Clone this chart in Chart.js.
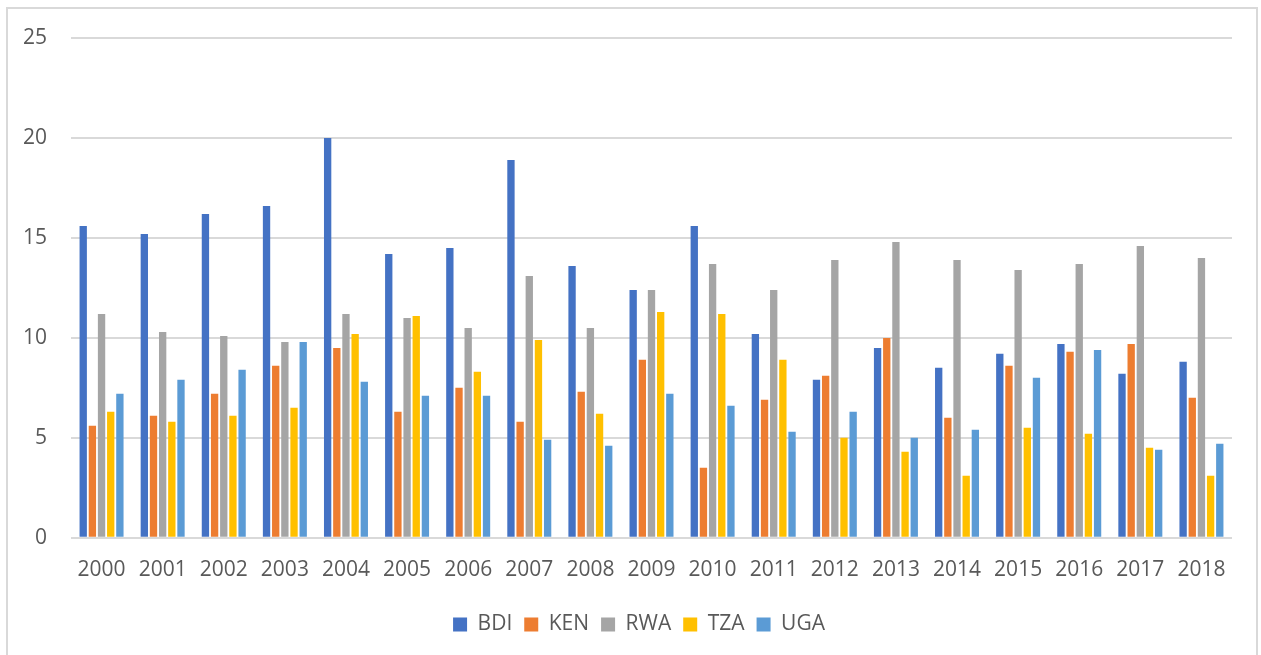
<!DOCTYPE html>
<html>
<head>
<meta charset="utf-8">
<title>BDI, KEN, RWA, TZA, UGA 2000–2018</title>
<script src="https://cdn.jsdelivr.net/npm/chart.js@4"></script>
<style>
  html, body { margin: 0; padding: 0; background: #ffffff; overflow: hidden; }
  #wrap { position: relative; width: 1261px; height: 655px; }
  #frame {
    position: absolute; left: 6px; top: 7px; width: 1252px; height: 660px;
    border: 2px solid #d9d9d9; box-sizing: border-box; pointer-events: none;
  }
  canvas { position: absolute; left: 0; top: 0; }
</style>
</head>
<body>
<div id="wrap">
  <canvas id="chart" width="1261" height="655"></canvas>
  <div id="frame"></div>
</div>
<script>
// Years on the category axis
const years = ['2000','2001','2002','2003','2004','2005','2006','2007','2008','2009',
               '2010','2011','2012','2013','2014','2015','2016','2017','2018'];

// Series values, one array per country
const bdi = [15.6, 15.2, 16.2, 16.6, 20.0, 14.2, 14.5, 18.9, 13.6, 12.4, 15.6, 10.2, 7.9, 9.5, 8.5, 9.2, 9.7, 8.2, 8.8];
const ken = [5.6, 6.1, 7.2, 8.6, 9.5, 6.3, 7.5, 5.8, 7.3, 8.9, 3.5, 6.9, 8.1, 10.0, 6.0, 8.6, 9.3, 9.7, 7.0];
const rwa = [11.2, 10.3, 10.1, 9.8, 11.2, 11.0, 10.5, 13.1, 10.5, 12.4, 13.7, 12.4, 13.9, 14.8, 13.9, 13.4, 13.7, 14.6, 14.0];
const tza = [6.3, 5.8, 6.1, 6.5, 10.2, 11.1, 8.3, 9.9, 6.2, 11.3, 11.2, 8.9, 5.0, 4.3, 3.1, 5.5, 5.2, 4.5, 3.1];
const uga = [7.2, 7.9, 8.4, 9.8, 7.8, 7.1, 7.1, 4.9, 4.6, 7.2, 6.6, 5.3, 6.3, 5.0, 5.4, 8.0, 9.4, 4.4, 4.7];

// Value axis ticks
const yTicks = [0, 5, 10, 15, 20, 25];

const seriesNames = ['BDI', 'KEN', 'RWA', 'TZA', 'UGA'];
const seriesColors = ['#4472C4', '#ED7D31', '#A5A5A5', '#FFC000', '#5B9BD5'];
const seriesValues = [bdi, ken, rwa, tza, uga];

const textColor = '#595959';
const gridColor = '#d9d9d9';
const fontFamily = '"Open Sans", "Noto Sans", sans-serif';

// Centre the legend under the plot area rather than the whole canvas
const legendShift = {
  id: 'legendShift',
  afterLayout(chart) {
    const dx = 11.5;
    chart.legend.left += dx;
    chart.legend.right += dx;
  }
};

new Chart(document.getElementById('chart'), {
  type: 'bar',
  data: {
    labels: years,
    datasets: seriesNames.map((name, i) => ({
      label: name,
      data: seriesValues[i],
      backgroundColor: seriesColors[i],
      borderWidth: 0,
      barPercentage: 0.8,
      categoryPercentage: 0.75
    }))
  },
  plugins: [legendShift],
  options: {
    responsive: false,
    animation: false,
    layout: { padding: { left: 23, right: 29, top: 38, bottom: 10 } },
    plugins: {
      legend: {
        position: 'bottom',
        labels: {
          color: textColor,
          font: { family: fontFamily, size: 21 },
          boxWidth: 14,
          boxHeight: 14,
          padding: 12
        }
      },
      tooltip: { enabled: false }
    },
    scales: {
      x: {
        grid: { display: false, drawTicks: false },
        border: { display: false },
        ticks: {
          color: textColor,
          font: { family: fontFamily, size: 21 },
          padding: 19.5,
          maxRotation: 0,
          autoSkip: false
        },
        // year labels sit inside their categories, so no side padding is needed
        afterFit: (axis) => { axis.paddingLeft = 0; axis.paddingRight = 0; }
      },
      y: {
        min: 0,
        max: 25,
        afterBuildTicks: (axis) => { axis.ticks = yTicks.map(v => ({ value: v })); },
        // two-digit labels plus their gap to the plot
        afterFit: (axis) => { axis.width = 48; },
        grid: { color: gridColor, lineWidth: 2, drawTicks: false },
        border: { display: false },
        ticks: {
          color: textColor,
          font: { family: fontFamily, size: 21 },
          padding: 24
        }
      }
    }
  }
});
</script>
</body>
</html>
